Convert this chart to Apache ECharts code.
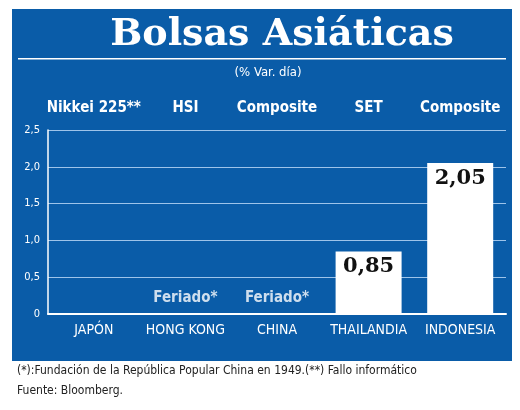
<!DOCTYPE html>
<html><head><meta charset="utf-8">
<script src="https://cdn.jsdelivr.net/npm/echarts@6/dist/echarts.min.js"></script>
<style>html,body{margin:0;padding:0;background:#fff}#c{width:520px;height:410px}</style>
</head><body><div id="c"></div>
<script>
const countries = ['JAPÓN','HONG KONG','CHINA','THAILANDIA','INDONESIA'];
const indices = ['Nikkei 225**','HSI','Composite','SET','Composite'];
const values = [null, null, null, 0.85, 2.05];
const notes = ['', 'Feriado*', 'Feriado*', '', ''];
const yTicks = [0, 0.5, 1.0, 1.5, 2.0, 2.5];
const blue = '#0a5ca8';
const cond = '"DejaVu Sans Condensed","DejaVu Sans",sans-serif';
const chart = echarts.init(document.getElementById('c'));
chart.setOption({
  backgroundColor: '#fff',
  animation: false,
  graphic: [
    {type:'rect', shape:{x:12,y:9,width:500,height:352}, style:{fill:blue}, z:-10},
    {type:'text', x:282, y:16, style:{text:'Bolsas Asiáticas', fill:'#fff', align:'center', verticalAlign:'top', font:'bold 38px "DejaVu Serif", serif'}},
    {type:'rect', shape:{x:18,y:58,width:488,height:1.5}, style:{fill:'#fff'}},
    {type:'text', x:268, y:66, style:{text:'(% Var. día)', fill:'#fff', align:'center', verticalAlign:'top', font:'13px '+cond}},
    {type:'text', x:17, y:365, style:{text:'(*):Fundación de la República Popular China en 1949.(**) Fallo informático', fill:'#222', verticalAlign:'top', font:'12px '+cond}},
    {type:'text', x:17, y:385, style:{text:'Fuente: Bloomberg.', fill:'#222', verticalAlign:'top', font:'12px '+cond}}
  ],
  grid: {left:48, right:14, top:130, bottom:96},
  xAxis: [{
    type:'category', data: countries,
    axisLine:{lineStyle:{color:'#fff', width:2}}, axisTick:{show:false},
    axisLabel:{color:'#fff', fontSize:14, fontFamily:cond, margin:9, interval:0}
  },{
    type:'category', data: indices, position:'top',
    axisLine:{show:false}, axisTick:{show:false},
    axisLabel:{color:'#fff', fontSize:15, fontWeight:'bold', fontFamily:cond, margin:14, interval:0}
  }],
  yAxis: {
    type:'value', min:0, max:2.5, interval:0.5,
    axisLine:{show:true, lineStyle:{color:'#fff', width:1.5}}, axisTick:{show:false},
    splitLine:{lineStyle:{color:'#9ec4ea', width:1}},
    axisLabel:{color:'#fff', fontSize:11, fontFamily:cond, margin:8,
      formatter: v => yTicks.includes(v) ? (v===0?'0':v.toFixed(1).replace('.',',')) : ''}
  },
  series: [{
    type:'bar', data: values, barWidth:66, itemStyle:{color:'#fff'},
    label:{show:true, position:'insideTop', color:'#111', fontSize:21, fontWeight:'bold',
      fontFamily:'"DejaVu Serif",serif', formatter: p => p.value==null?'':p.value.toFixed(2).replace('.',',')}
  },{
    type:'scatter', symbolSize:0, data: notes.map(n => n ? 0 : null),
    label:{show:true, position:'top', distance:8, color:'#fff', fontSize:15, fontWeight:'bold', fontFamily:cond,
      formatter: p => notes[p.dataIndex]}
  }]
});
</script></body></html>
